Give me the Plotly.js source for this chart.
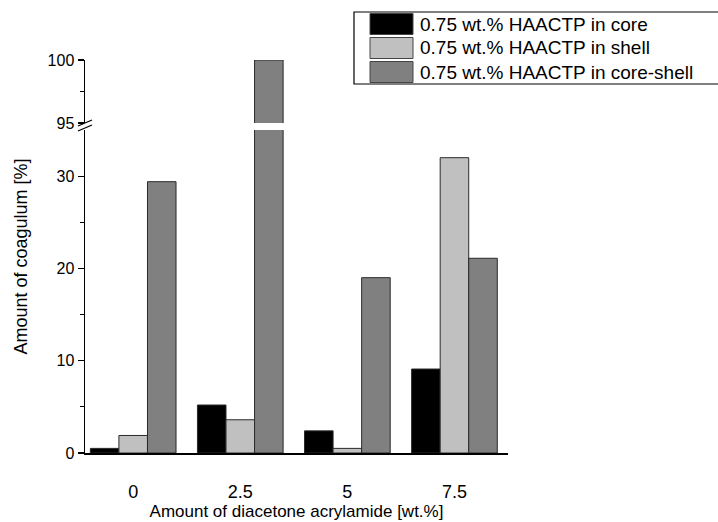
<!DOCTYPE html>
<html>
<head>
<meta charset="utf-8">
<script src="https://cdn.plot.ly/plotly-3.0.1.min.js"></script>
<style>html,body{margin:0;padding:0;background:#fff;}#chart{width:718px;height:522px;}</style>
</head>
<body>
<div id="chart"></div>
<script>
// ---- data ----
var categories = ["0", "2.5", "5", "7.5"];
var seriesNames = ["0.75 wt.% HAACTP in core", "0.75 wt.% HAACTP in shell", "0.75 wt.% HAACTP in core-shell"];
var coreValues = [0.5, 5.2, 2.4, 9.1];
var shellValues = [1.9, 3.6, 0.5, 32.0];
var coreShellValues = [29.4, 100, 19.0, 21.1];
var seriesColors = ["#000000", "#c0c0c0", "#808080"];
var lowerTicks = [0, 10, 20, 30];
var lowerMinor = [5, 15, 25];
var upperTicks = [95, 100];
var upperMinor = [97.5];

var allValues = [coreValues, shellValues, coreShellValues];

// ---- geometry helpers (plot area in pixels) ----
var W = 718, H = 522, L = 85, R = 210, T = 60, B = 69;
var PW = W - L - R, PH = H - T - B;
function px(x) { return (x - L) / PW; }
function py(y) { return (H - B - y) / PH; }

var traces = [];
allValues.forEach(function (vals, i) {
  var base = {
    type: "bar",
    x: categories,
    y: vals,
    name: seriesNames[i],
    marker: { color: seriesColors[i], line: { color: "#2a2a2a", width: 1 } },
    showlegend: false,
    hoverinfo: "x+y+name"
  };
  traces.push(Object.assign({}, base, { xaxis: "x", yaxis: "y" }));
  traces.push(Object.assign({}, base, { xaxis: "x", yaxis: "y2" }));
});

var font = "Liberation Sans, Arial, sans-serif";

var shapes = [];
var annotations = [];

// axis break marks
shapes.push({ type: "line", xref: "paper", yref: "paper", x0: px(78), y0: py(126), x1: px(92), y1: py(120), line: { color: "#000", width: 1.3 } });
shapes.push({ type: "line", xref: "paper", yref: "paper", x0: px(78), y0: py(131), x1: px(92), y1: py(125), line: { color: "#000", width: 1.3 } });

// legend box
shapes.push({ type: "rect", xref: "paper", yref: "paper", x0: px(354), y0: py(84), x1: px(724), y1: py(12), line: { color: "#000", width: 1.2 }, fillcolor: "rgba(0,0,0,0)" });
seriesNames.forEach(function (n, i) {
  var cy = 24 + i * 24;
  shapes.push({ type: "rect", xref: "paper", yref: "paper", x0: px(370), x1: px(413), y0: py(cy + 10.5), y1: py(cy - 10.5), fillcolor: seriesColors[i], line: { color: "#444", width: 1 } });
  annotations.push({ xref: "paper", yref: "paper", x: px(418), y: py(cy), xanchor: "left", yanchor: "middle", text: n, showarrow: false, font: { family: font, size: 19, color: "#000" } });
});

// y title centred on the whole plot height
annotations.push({ xref: "paper", yref: "paper", x: px(20), y: 0.5, xanchor: "center", yanchor: "middle", textangle: -90, text: "Amount of coagulum [%]", showarrow: false, font: { family: font, size: 18, color: "#000" } });

var layout = {
  width: W, height: H,
  margin: { l: L, r: R, t: T, b: B, pad: 0 },
  paper_bgcolor: "#fff", plot_bgcolor: "#fff",
  font: { family: font, color: "#000" },
  barmode: "group", bargap: 0.2, bargroupgap: 0,
  showlegend: false,
  xaxis: {
    type: "category", range: [-0.45, 3.5],
    showline: true, linecolor: "#000", linewidth: 1.5,
    ticks: "", showgrid: false, zeroline: false,
    tickfont: { size: 18, family: font },
    ticklabelstandoff: 22,
    title: { text: "Amount of diacetone acrylamide [wt.%]", font: { size: 17, family: font }, standoff: 4 },
    anchor: "y"
  },
  yaxis: {
    domain: [0, py(130)], range: [0, 35],
    tickvals: lowerTicks, ticktext: lowerTicks.map(String),
    minor: { tickvals: lowerMinor, ticks: "outside", ticklen: 4, tickcolor: "#000", tickwidth: 1.2 },
    ticks: "outside", ticklen: 6, tickwidth: 1.2, tickcolor: "#000",
    showline: true, linecolor: "#000", linewidth: 1.5,
    showgrid: false, zeroline: false,
    tickfont: { size: 16, family: font },
    anchor: "x"
  },
  yaxis2: {
    domain: [py(123), 1], range: [95, 100],
    tickvals: upperTicks, ticktext: upperTicks.map(String),
    minor: { tickvals: upperMinor, ticks: "outside", ticklen: 4, tickcolor: "#000", tickwidth: 1.2 },
    ticks: "outside", ticklen: 6, tickwidth: 1.2, tickcolor: "#000",
    showline: true, linecolor: "#000", linewidth: 1.5,
    showgrid: false, zeroline: false,
    tickfont: { size: 16, family: font },
    anchor: "x"
  },
  shapes: shapes,
  annotations: annotations
};

Plotly.newPlot("chart", traces, layout, { displayModeBar: false, staticPlot: true });
</script>
</body>
</html>
